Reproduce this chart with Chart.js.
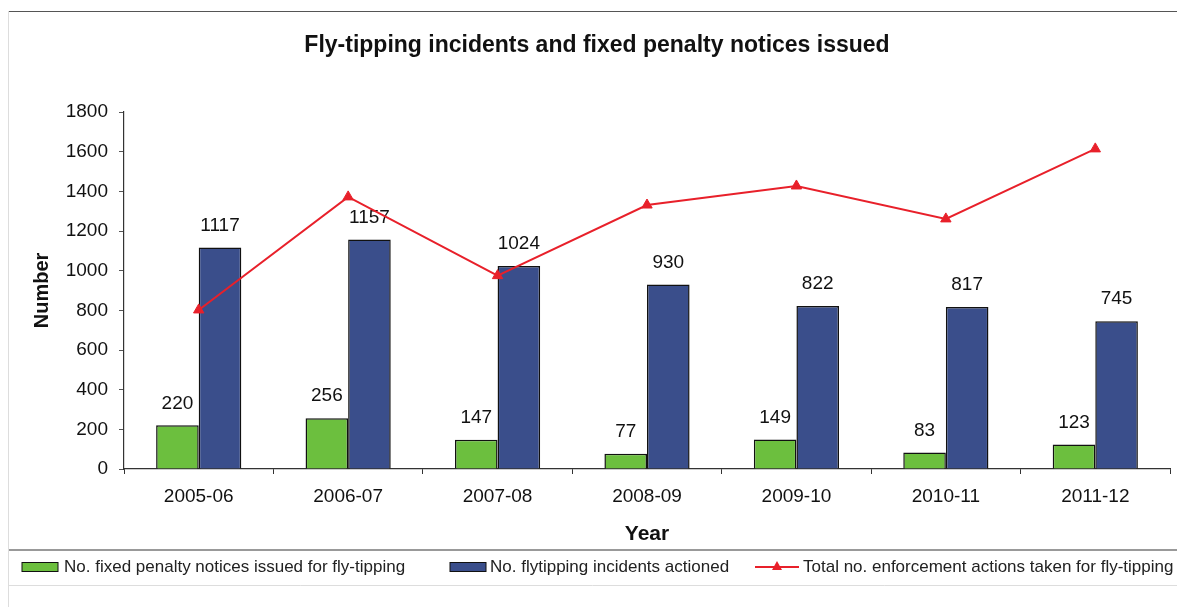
<!DOCTYPE html>
<html>
<head>
<meta charset="utf-8">
<script src="https://cdn.jsdelivr.net/npm/chart.js@4.4.1/dist/chart.umd.min.js"></script>
<style>
  html, body { margin: 0; padding: 0; background: #fff; }
  #wrap { width: 1177px; height: 607px; position: relative; }
</style>
</head>
<body>
<div id="wrap"><canvas id="c" width="1177" height="607"></canvas></div>
<script>
const categories = ['2005-06', '2006-07', '2007-08', '2008-09', '2009-10', '2010-11', '2011-12'];
const fixedPenaltyNotices = [220, 256, 147, 77, 149, 83, 123];
const incidentsActioned = [1117, 1157, 1024, 930, 822, 817, 745];
const totalEnforcementActions = [802, 1372, 975, 1331, 1427, 1261, 1614];
const yTicks = [0, 200, 400, 600, 800, 1000, 1200, 1400, 1600, 1800];

const chartTitle = 'Fly-tipping incidents and fixed penalty notices issued';
const seriesNames = [
  'No. fixed penalty notices issued for fly-tipping',
  'No. flytipping incidents actioned',
  'Total no. enforcement actions taken for fly-tipping'
];
const GREEN = '#6cbf3e', BLUE = '#3a4e8b', RED = '#e8202a';
const FONT = "'Liberation Sans', Arial, sans-serif";

const decorPlugin = {
  id: 'decor',
  beforeDraw(chart) {
    const ctx = chart.ctx;
    ctx.save();
    ctx.fillStyle = '#fff';
    ctx.fillRect(0, 0, chart.width, chart.height);
    ctx.strokeStyle = '#555';
    ctx.lineWidth = 1.2;
    ctx.beginPath(); ctx.moveTo(8, 11.5); ctx.lineTo(1177, 11.5); ctx.stroke();
    ctx.strokeStyle = '#777';
    ctx.lineWidth = 1.5;
    ctx.beginPath(); ctx.moveTo(8, 550); ctx.lineTo(1177, 550); ctx.stroke();
    ctx.strokeStyle = '#ddd';
    ctx.lineWidth = 1;
    ctx.beginPath(); ctx.moveTo(8, 585.5); ctx.lineTo(1177, 585.5); ctx.stroke();
    ctx.beginPath(); ctx.moveTo(8.5, 11); ctx.lineTo(8.5, 607); ctx.stroke();
    // title
    ctx.font = 'bold 23px ' + FONT;
    ctx.fillStyle = '#111';
    ctx.textAlign = 'center';
    ctx.textBaseline = 'middle';
    ctx.fillText(chartTitle, 597, 46);
    ctx.restore();
  }
};

const valueLabels = {
  id: 'valueLabels',
  afterDatasetDraw(chart, args) {
    const ds = chart.data.datasets[args.index];
    if (ds.type !== 'bar') return;
    const ctx = chart.ctx;
    ctx.save();
    ctx.font = '19px ' + FONT;
    ctx.fillStyle = '#111';
    ctx.textAlign = 'center';
    ctx.textBaseline = 'middle';
    args.meta.data.forEach((el, i) => {
      ctx.fillText(String(ds.data[i]), el.x, el.y - 22);
    });
    ctx.restore();
  }
};

const customLegend = {
  id: 'customLegend',
  afterDraw(chart) {
    const ctx = chart.ctx;
    const y = 567;
    ctx.save();
    ctx.font = '17px ' + FONT;
    ctx.fillStyle = '#222';
    ctx.textBaseline = 'middle';
    ctx.textAlign = 'left';
    ctx.fillStyle = GREEN; ctx.fillRect(22, y - 4.5, 36, 9);
    ctx.strokeStyle = '#111'; ctx.lineWidth = 1; ctx.strokeRect(22, y - 4.5, 36, 9);
    ctx.fillStyle = '#222'; ctx.fillText(chart.data.datasets[1].label, 64, y);
    ctx.fillStyle = BLUE; ctx.fillRect(450, y - 4.5, 36, 9);
    ctx.strokeRect(450, y - 4.5, 36, 9);
    ctx.fillStyle = '#222'; ctx.fillText(chart.data.datasets[2].label, 490, y);
    ctx.strokeStyle = RED; ctx.lineWidth = 2;
    ctx.beginPath(); ctx.moveTo(755, y); ctx.lineTo(799, y); ctx.stroke();
    ctx.fillStyle = RED;
    ctx.beginPath(); ctx.moveTo(777, y - 6); ctx.lineTo(782, y + 3); ctx.lineTo(772, y + 3); ctx.closePath(); ctx.fill();
    ctx.fillStyle = '#222'; ctx.fillText(chart.data.datasets[0].label, 803, y);
    ctx.restore();
  }
};

new Chart(document.getElementById('c'), {
  data: {
    labels: categories,
    datasets: [
      {
        type: 'line', label: seriesNames[2], data: totalEnforcementActions,
        borderColor: RED, backgroundColor: RED, borderWidth: 2,
        pointStyle: 'triangle', pointRadius: 6, pointBorderWidth: 1,
        tension: 0, order: 0
      },
      {
        type: 'bar', label: seriesNames[0], data: fixedPenaltyNotices,
        backgroundColor: GREEN, borderColor: '#111', borderWidth: 1.5,
        categoryPercentage: 0.57, barPercentage: 1.0, order: 1
      },
      {
        type: 'bar', label: seriesNames[1], data: incidentsActioned,
        backgroundColor: BLUE, borderColor: '#111', borderWidth: 1.5,
        categoryPercentage: 0.57, barPercentage: 1.0, order: 2
      }
    ]
  },
  options: {
    responsive: false,
    animation: false,
    devicePixelRatio: 1,
    layout: { padding: { left: 0, right: 5, top: 112, bottom: 60 } },
    plugins: {
      legend: { display: false },
      tooltip: { enabled: false },
      title: { display: false }
    },
    scales: {
      x: {
        offset: true,
        grid: { display: true, offset: true, drawOnChartArea: false, drawTicks: true, tickLength: 5, color: '#333' },
        border: { display: true, color: '#333', width: 1.2 },
        ticks: { color: '#111', padding: 11, font: { family: FONT, size: 19 } },
        title: { display: true, text: 'Year', color: '#111', font: { family: FONT, size: 21, weight: 'bold' }, padding: { top: 0, bottom: 0 } },
        afterFit(scale) { scale.height = 78; }
      },
      y: {
        min: 0, max: 1800,
        afterBuildTicks(scale) { scale.ticks = yTicks.map(v => ({ value: v })); },
        grid: { display: true, drawOnChartArea: false, drawTicks: true, tickLength: 5, color: '#555' },
        border: { display: true, color: '#333', width: 1.2 },
        ticks: { color: '#111', padding: 11, font: { family: FONT, size: 19 }, callback: (v) => String(v) },
        title: { display: true, text: 'Number', color: '#111', font: { family: FONT, size: 20, weight: 'bold' }, padding: { top: 30, bottom: 0 } },
        afterFit(scale) { scale.width = 124; }
      }
    }
  },
  plugins: [decorPlugin, valueLabels, customLegend]
});
</script>
</body>
</html>
